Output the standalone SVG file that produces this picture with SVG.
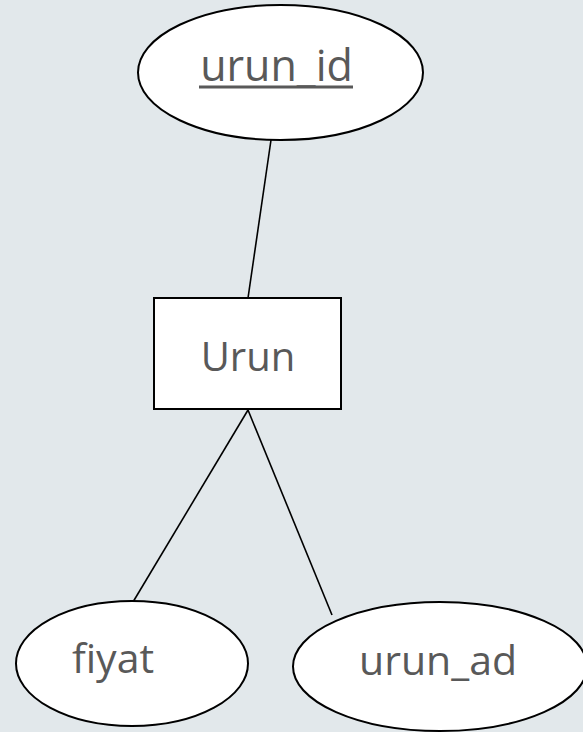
<svg xmlns="http://www.w3.org/2000/svg" width="583" height="732" viewBox="0 0 583 732">
  <style>
    .shape { fill: #ffffff; stroke: #000000; stroke-width: 2; }
    .conn { stroke: #000000; stroke-width: 1.6; fill: none; }
    .label { font-family: "Open Sans", "Liberation Sans", sans-serif; font-size: 41px; fill: #595959; text-anchor: middle; }
  </style>
  <rect x="0" y="0" width="583" height="732" fill="#e2e8eb"/>
  <g id="connectors">
    <line class="conn" x1="271" y1="140" x2="248" y2="298"/>
    <line class="conn" x1="248" y1="410" x2="133" y2="602"/>
    <line class="conn" x1="248" y1="410" x2="332" y2="615"/>
  </g>
  <g id="urun_id">
    <ellipse class="shape" cx="280.5" cy="72.5" rx="142.5" ry="67.5"/>
    <text class="label" x="276.5" y="81" style="font-size:43px">urun_id</text>
    <line x1="199" y1="87" x2="353" y2="87" stroke="#595959" stroke-width="3"/>
  </g>
  <g id="Urun">
    <rect class="shape" x="154" y="298" width="187" height="111"/>
    <text class="label" x="248" y="371" style="font-size:40px">Urun</text>
  </g>
  <g id="fiyat">
    <ellipse class="shape" cx="132" cy="663.5" rx="116" ry="62.5"/>
    <text class="label" x="113" y="673">fiyat</text>
  </g>
  <g id="urun_ad">
    <ellipse class="shape" cx="440" cy="666.5" rx="147" ry="64.5"/>
    <text class="label" x="438" y="675">urun_ad</text>
  </g>
</svg>
